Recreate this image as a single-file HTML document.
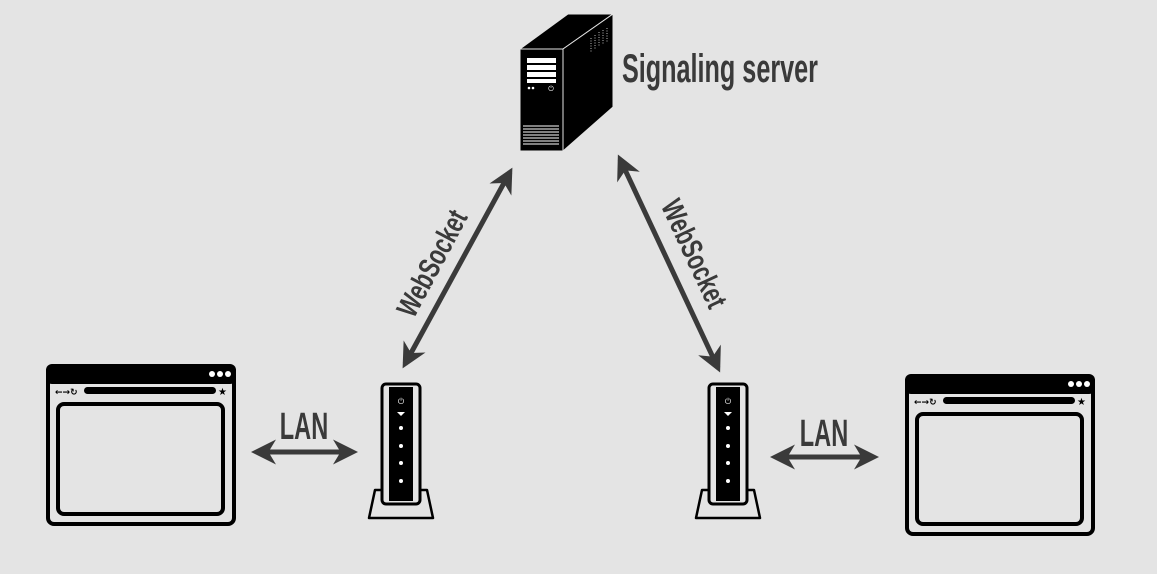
<!DOCTYPE html>
<html><head><meta charset="utf-8"><style>
html,body{margin:0;padding:0;background:#e4e4e4;}
svg{display:block;}
.t{font-family:"Liberation Sans Narrow","Liberation Sans",sans-serif;font-weight:bold;fill:#3a3a3a;}
</style></head><body>
<svg width="1157" height="574" viewBox="0 0 1157 574" xmlns="http://www.w3.org/2000/svg">
<defs>
<g id="br">
<rect x="2" y="2" width="186" height="158" rx="6" fill="#e4e4e4" stroke="#000" stroke-width="4"/>
<rect x="0" y="0" width="190" height="20" rx="6" fill="#000"/>
<circle cx="166" cy="10" r="3" fill="#fff"/><circle cx="174" cy="10" r="3" fill="#fff"/><circle cx="182" cy="10" r="3" fill="#fff"/>
<text x="9" y="31" font-size="9" font-family="DejaVu Sans" font-weight="bold">←→↻</text>
<rect x="38" y="23" width="132" height="7" rx="3.5" fill="#000"/>
<text x="172" y="31" font-size="10" font-family="DejaVu Sans">★</text>
<rect x="12" y="40" width="165" height="110" rx="6" fill="none" stroke="#000" stroke-width="4"/>
</g>
<g id="rt">
<path d="M8 106 H60 L66 134 H2 Z" fill="#e4e4e4" stroke="#000" stroke-width="2.5" stroke-linejoin="round"/>
<rect x="15" y="0" width="38" height="120" rx="4" fill="#e4e4e4" stroke="#000" stroke-width="3"/>
<rect x="22" y="3" width="24" height="114" fill="#000"/>
<text x="34" y="20" font-size="8" fill="#fff" text-anchor="middle" font-family="DejaVu Sans">⏻</text>
<path d="M30 28 L38 28 L34 32 Z" fill="#fff"/>
<circle cx="34" cy="44" r="2" fill="#fff"/><circle cx="34" cy="62" r="2" fill="#fff"/>
<circle cx="34" cy="79" r="2" fill="#fff"/><circle cx="34" cy="97" r="2" fill="#fff"/>
</g>
<marker id="ah" viewBox="0 0 10 10" refX="8" refY="5" markerWidth="5" markerHeight="5" orient="auto-start-reverse" markerUnits="strokeWidth">
<path d="M0 0 L10 5 L0 10 L3 5 Z" fill="#3a3a3a"/></marker>
</defs>

<!-- server -->
<polygon points="520,49 563,49 613,14 568,14" fill="#000" stroke="#e4e4e4" stroke-width="1"/>
<polygon points="563,49 613,14 613,107 563,151" fill="#000" stroke="#e4e4e4" stroke-width="1"/>
<rect x="520" y="49" width="43" height="102" fill="#000" stroke="#e4e4e4" stroke-width="1"/>
<g fill="#fff"><rect x="527" y="58" width="29" height="5"/><rect x="527" y="65" width="29" height="5"/><rect x="527" y="72" width="29" height="5"/><rect x="527" y="79" width="29" height="4"/></g>
<circle cx="529" cy="88" r="1.3" fill="#fff"/><circle cx="533" cy="88" r="1.3" fill="#fff"/>
<text x="551" y="91" font-size="7" fill="#fff" text-anchor="middle" font-family="DejaVu Sans">⏻</text>
<g stroke="#fff" stroke-width="1"><line x1="523" y1="126" x2="559" y2="126"/><line x1="523" y1="129" x2="559" y2="129"/><line x1="523" y1="132" x2="559" y2="132"/><line x1="523" y1="135" x2="559" y2="135"/><line x1="523" y1="138" x2="559" y2="138"/><line x1="523" y1="141" x2="559" y2="141"/><line x1="523" y1="144" x2="559" y2="144"/></g>
<g stroke="#999" stroke-width="1.2" stroke-dasharray="1 1.5"><line x1="591" y1="38" x2="591" y2="53"/><line x1="595" y1="35" x2="595" y2="50"/><line x1="599" y1="32" x2="599" y2="47"/><line x1="603" y1="30" x2="603" y2="45"/><line x1="607" y1="28" x2="607" y2="42"/></g>
<text class="t" x="622" y="82" font-size="40" transform="translate(622 0) scale(0.63 1) translate(-622 0)">Signaling server</text>

<!-- arrows -->
<g stroke="#3a3a3a" stroke-width="5" fill="none">
<line x1="405" y1="364" x2="510" y2="172" marker-start="url(#ah)" marker-end="url(#ah)"/>
<line x1="620" y1="159" x2="718" y2="368" marker-start="url(#ah)" marker-end="url(#ah)"/>
<line x1="256" y1="452" x2="353" y2="452" marker-start="url(#ah)" marker-end="url(#ah)"/>
<line x1="775" y1="457" x2="874" y2="457" marker-start="url(#ah)" marker-end="url(#ah)"/>
</g>
<text class="t" font-size="30" text-anchor="middle" transform="translate(441 268) rotate(-62) scale(0.72 1)">WebSocket</text>
<text class="t" font-size="30" text-anchor="middle" transform="translate(685 258) rotate(65) scale(0.72 1)">WebSocket</text>
<text class="t" font-size="38" text-anchor="middle" transform="translate(304 439) scale(0.62 1)">LAN</text>
<text class="t" font-size="38" text-anchor="middle" transform="translate(824 446) scale(0.62 1)">LAN</text>

<use href="#br" x="46" y="364"/>
<use href="#br" x="905" y="374"/>
<use href="#rt" x="367" y="384"/>
<use href="#rt" x="694" y="384"/>
</svg>
</body></html>
